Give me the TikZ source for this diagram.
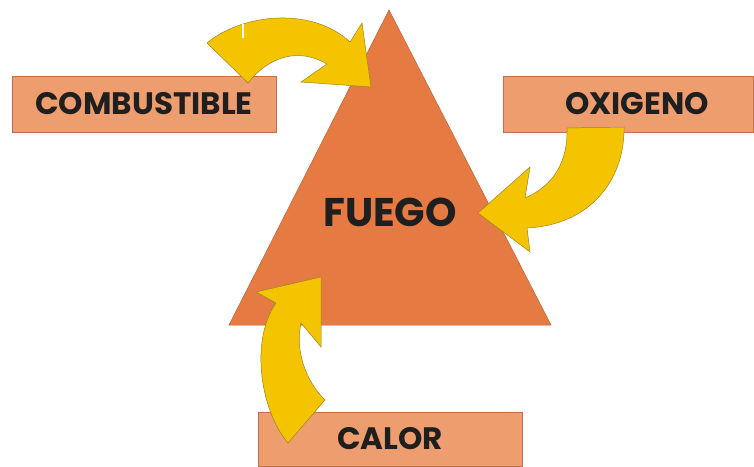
\documentclass[tikz,border=0pt]{standalone}
\usepackage{fontspec}
\newfontfamily\rotulo{Poppins}
\usepackage{tikz}
\usetikzlibrary{positioning}

\definecolor{fuego}{HTML}{E57A43}
\definecolor{fuegoborde}{HTML}{B9643A}
\definecolor{cajafondo}{HTML}{EE9E6E}
\definecolor{cajaborde}{HTML}{C07048}
\definecolor{amarillo}{HTML}{F5C400}
\definecolor{amarilloborde}{HTML}{9C8520}

\begin{document}
\begin{tikzpicture}[x=1pt,y=-1pt,
  caja/.style={draw=cajaborde,fill=cajafondo,line width=0.6pt,minimum width=264pt,minimum height=56pt,inner sep=0pt},
  rotulo/.style={font=\rotulo\bfseries\fontsize{31}{33}\selectfont,text=black!88},
  flecha/.style={draw=amarilloborde,fill=amarillo,line width=0.5pt,line join=miter}]
  \useasboundingbox (0,0) rectangle (754,466);

  % cajas
  \node[caja,rotulo]                          (comb) at (144,104) {COMBUSTIBLE};
  \node[caja,rotulo,minimum width=250pt]      (oxi)  at (628,104) {\hspace*{18pt}OXIGENO};
  \node[caja,rotulo,minimum height=54pt]      (cal)  at (390,439) {CALOR};

  % triangulo
  \draw[draw=fuegoborde,fill=fuego,line width=0.5pt] (389,10) -- (551,325) -- (229,325) -- cycle;
  \node[rotulo,font=\rotulo\bfseries\fontsize{40}{42}\selectfont] (fuego) at (390,212) {FUEGO};

  % flechas
  \draw[flecha] (207,43) .. controls (240,15) and (310,5) .. (350,42) -- (362,23) -- (371,87)
     -- (301,82) -- (327,64) .. controls (300,48) and (270,55) .. (248,83) -- cycle;
  \draw[white,line width=1.5pt] (243,24) -- (243,38);
  \draw[flecha] (567,128) -- (624,127) .. controls (625,180) and (590,225) .. (527,228)
     -- (530,252) -- (478,213) -- (530,167) -- (525,198) .. controls (555,185) and (568,160) .. (567,128);
  \draw[flecha] (321,277) -- (321,347) -- (301,323) .. controls (295,350) and (305,380) .. (325,400)
     -- (288,443) .. controls (260,410) and (250,340) .. (276,303) -- (256,292) -- cycle;
\end{tikzpicture}
\end{document}
